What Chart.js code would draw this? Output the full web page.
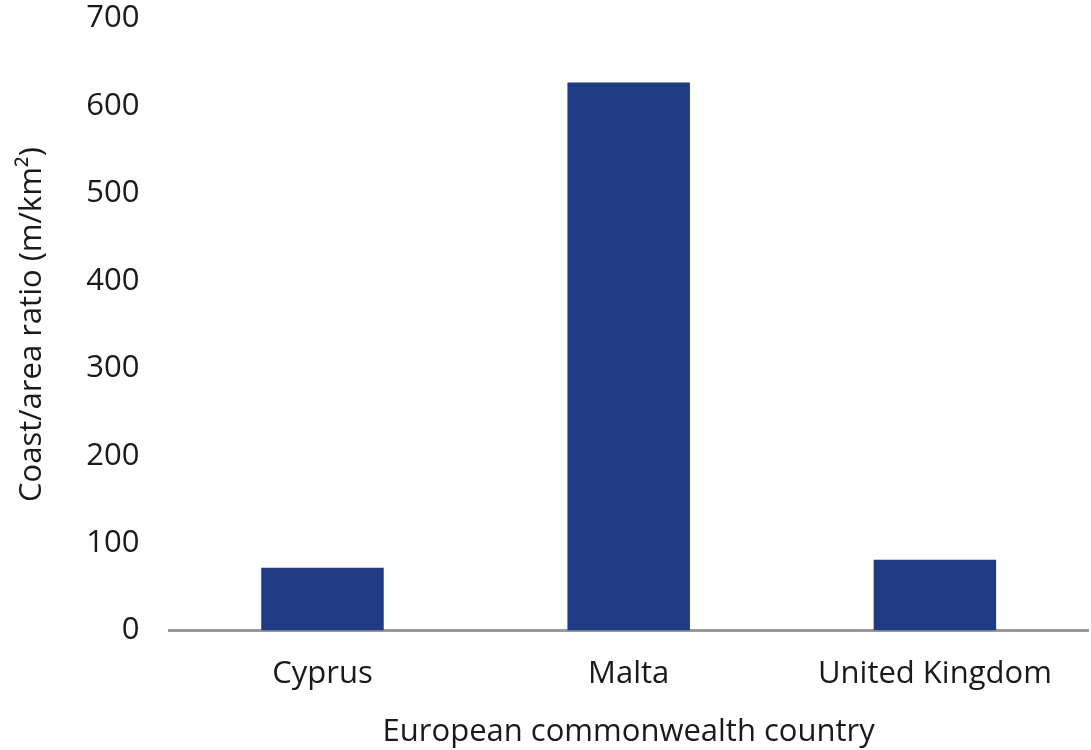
<!DOCTYPE html>
<html>
<head>
<meta charset="utf-8">
<script src="https://cdn.jsdelivr.net/npm/chart.js@4"></script>
<style>
  html, body { margin: 0; padding: 0; background: #fff; }
  #wrap { width: 1091px; height: 750px; position: relative; overflow: hidden; }
  #inner { position: absolute; left: 0; top: -22px; width: 1091px; height: 777px; }
</style>
</head>
<body>
<div id="wrap"><div id="inner"><canvas id="chart"></canvas></div></div>
<script>
// chart data
var countries = ['Cyprus', 'Malta', 'United Kingdom'];
var coastRatio = [72, 627, 81];
var yTicks = [0, 100, 200, 300, 400, 500, 600, 700];

var textColor = '#1a1a1a';
var fontFamily = "'Open Sans', sans-serif";

var ctx = document.getElementById('chart').getContext('2d');
var chart = new Chart(ctx, {
  type: 'bar',
  data: {
    labels: countries,
    datasets: [{
      label: 'Coast/area ratio',
      data: coastRatio,
      backgroundColor: '#213a84',
      barPercentage: 0.8,
      categoryPercentage: 0.5
    }]
  },
  options: {
    responsive: true,
    maintainAspectRatio: false,
    animation: false,
    layout: { padding: { top: 0, right: 3, bottom: 0, left: 10 } },
    plugins: {
      legend: { display: false },
      tooltip: { enabled: false }
    },
    scales: {
      x: {
        grid: { display: false },
        border: { color: '#999999', width: 3 },
        ticks: {
          color: textColor,
          font: { family: fontFamily, size: 31 },
          padding: 17,
          maxRotation: 0
        },
        title: {
          display: true,
          text: 'European commonwealth country',
          color: textColor,
          font: { family: fontFamily, size: 31 },
          padding: { top: 4 }
        }
      },
      y: {
        min: yTicks[0],
        max: yTicks[yTicks.length - 1],
        grid: { display: false },
        border: { display: false },
        ticks: {
          stepSize: 100,
          color: textColor,
          font: { family: fontFamily, size: 31 },
          padding: 22
        },
        title: {
          display: true,
          text: 'Coast/area ratio (m/km²)',
          color: textColor,
          font: { family: fontFamily, size: 31 },
          padding: { bottom: 13 }
        }
      }
    }
  }
});
</script>
</body>
</html>
